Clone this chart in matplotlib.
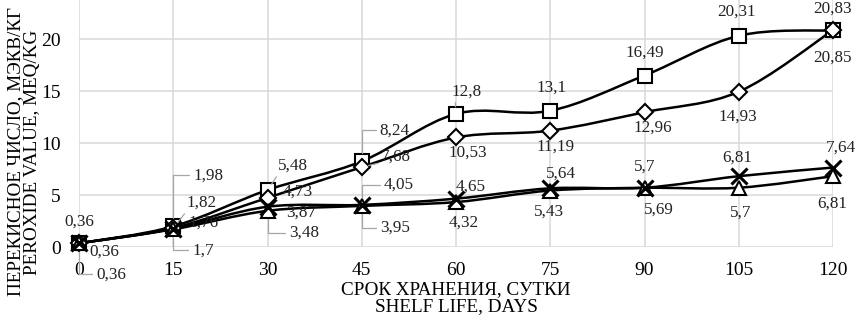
import numpy as np
import matplotlib
matplotlib.use("Agg")
import matplotlib.pyplot as plt
from matplotlib.path import Path
from matplotlib.patches import PathPatch

plt.rcParams['font.family'] = ['Liberation Serif', 'DejaVu Serif']

# data
days = [0, 15, 30, 45, 60, 75, 90, 105, 120]
squares = [0.36, 1.98, 5.48, 8.24, 12.8, 13.1, 16.49, 20.31, 20.83]
diamonds = [0.36, 1.82, 4.73, 7.68, 10.53, 11.19, 12.96, 14.93, 20.85]
triangles = [0.36, 1.7, 3.48, 3.95, 4.32, 5.43, 5.69, 5.7, 6.81]
crosses = [0.36, 1.76, 3.87, 4.05, 4.65, 5.64, 5.7, 6.81, 7.64]

y_ticks = [0, 5, 10, 15, 20]
x_label = "СРОК ХРАНЕНИЯ, СУТКИ\nSHELF LIFE, DAYS"
y_label = "ПЕРЕКИСНОЕ ЧИСЛО, МЭКВ/КГ\nPEROXIDE VALUE, MEQ/KG"

# label offsets in pixels (dx right, dy up); None = no label
off_sq = [(0, 22), (35, 51), (25, 24), (33, 31), (11, 22), (1, 23), (0, 23), (-2, 24), (-1, 22)]
off_di = [(25, -8), (28, 25), (30, 6), (34, 10), (12, -15), (5, -16), (8, -15), (-1, -25), (-1, -27)]
off_tr = [None, (30, -21), (37, -22), (33, -22), (8, -21), (-1, -21), (14, -22), (2, -25), (-1, -27)]
off_cr = [(32, -31), (30, 6), (34, -6), (37, 20), (15, 12), (11, 15), (0, 21), (-2, 19), (8, 20)]

# leader lines: (series, index) -> kind
leaders = {('sq', 1): 'elbow', ('sq', 3): 'elbow', ('sq', 2): 'line', ('sq', 4): 'line',
           ('di', 1): 'line', ('di', 3): 'line',
           ('cr', 0): 'elbow', ('cr', 3): 'elbow',
           ('tr', 1): 'elbow', ('tr', 2): 'elbow', ('tr', 3): 'elbow'}


def smooth_path(xs, ys):
    pts = np.column_stack([xs, ys]).astype(float)
    n = len(pts)
    verts = [pts[0]]
    codes = [Path.MOVETO]
    for i in range(n - 1):
        p0 = pts[i - 1] if i > 0 else pts[i]
        p1 = pts[i]
        p2 = pts[i + 1]
        p3 = pts[i + 2] if i + 2 < n else pts[i + 1]
        verts += [p1 + (p2 - p0) / 6, p2 - (p3 - p1) / 6, p2]
        codes += [Path.CURVE4] * 3
    return Path(verts, codes)


fig = plt.figure(figsize=(8.55, 3.2), dpi=100)
ax = fig.add_axes([79 / 855, 1 - 247 / 320, (833 - 79) / 855, 247 / 320])

series = [('sq', squares, dict(marker='s', ms=10, mfc='white')),
          ('di', diamonds, dict(marker='D', ms=8, mfc='white')),
          ('tr', triangles, dict(marker='^', ms=10, mfc='white')),
          ('cr', crosses, dict(marker='x', ms=11, mew=2.2))]
offsets = {'sq': off_sq, 'di': off_di, 'tr': off_tr, 'cr': off_cr}

for key, vals, mk in series:
    ax.add_patch(PathPatch(smooth_path(days, vals), fill=False, lw=1.8, color='black', zorder=2, clip_on=False))

for key, vals, mk in series:
    style = dict(mec='black', mew=1.5)
    style.update(mk)
    ax.plot(days, vals, ls='none', zorder=3, clip_on=False, **style)

for key, vals, mk in series:
    for i, (d, v) in enumerate(zip(days, vals)):
        off = offsets[key][i]
        if off is None:
            continue
        txt = f"{v:g}".replace('.', ',')
        kind = leaders.get((key, i))
        arrow = None
        if kind == 'elbow':
            arrow = dict(arrowstyle='-', color='#a6a6a6', lw=0.9, relpos=(0, 0.5),
                         connectionstyle='angle,angleA=0,angleB=90,rad=0', shrinkA=1, shrinkB=6)
        elif kind == 'line':
            arrow = dict(arrowstyle='-', color='#a6a6a6', lw=0.9, relpos=(0.1, 0.2),
                         shrinkA=0, shrinkB=5)
        ax.annotate(txt, (d, v), xytext=off, textcoords='offset pixels', ha='center', va='center',
                    fontsize=12.3, annotation_clip=False, arrowprops=arrow, zorder=4, color='#222222')

ax.set_xlim(0, 120)
ax.set_ylim(0, 23.75)
ax.set_xticks(days)
ax.set_yticks(y_ticks)
ax.grid(True, color='#d9d9d9', lw=1.1)
ax.set_axisbelow(True)
for s in ax.spines.values():
    s.set_visible(False)
ax.tick_params(length=0, labelsize=14, pad=11)
ax.tick_params(axis='y', pad=13)
ax.set_xlabel(x_label, fontsize=13.8, labelpad=1, linespacing=1.0)
fig.text(24 / 855, 1 - 152 / 320, y_label, rotation=90, ha='center', va='center',
         multialignment='center', fontsize=13.8, linespacing=1.0)

fig.savefig('out.png', dpi=100)
